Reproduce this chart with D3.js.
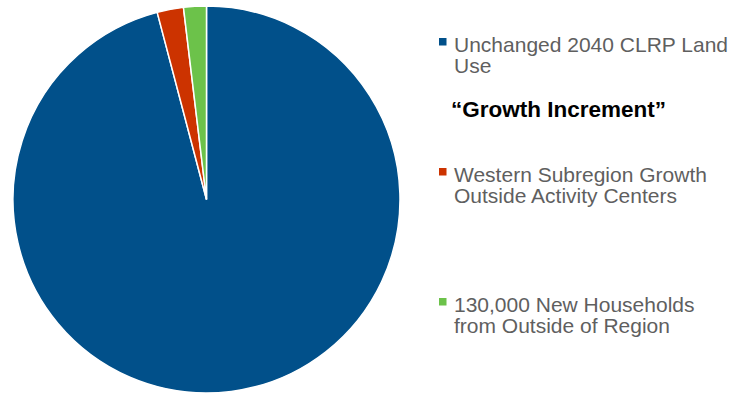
<!DOCTYPE html>
<html>
<head>
<meta charset="utf-8">
<script src="https://cdn.jsdelivr.net/npm/d3@7"></script>
<style>
  body { margin: 0; background: #fff; }
</style>
</head>
<body>
<div id="chart"></div>
<script>
// slice shares in percent, clockwise from 12 o'clock
const categories = ["Unchanged 2040 CLRP Land Use", "Western Subregion Growth Outside Activity Centers", "130,000 New Households from Outside of Region"];
const values = [95.9, 2.2, 1.9];
const colors = ["#01508a", "#cc3300", "#6cc24a"];
const legendLines = [
    ["Unchanged 2040 CLRP Land", "Use"],
    ["Western Subregion Growth", "Outside Activity Centers"],
    ["130,000 New Households", "from Outside of Region"]
];
const legendTitle = "\u201cGrowth Increment\u201d";

const width = 734, height = 394;
const cx = 206.5, cy = 199.5, radius = 193.5;

var svg = d3.select("#chart")
    .append("svg")
    .attr("width", width)
    .attr("height", height);

var data = categories.map((c, i) => ({ name: c, value: values[i], color: colors[i], lines: legendLines[i] }));

var pie = d3.pie().sort(null).value(d => d.value);
var arc = d3.arc().innerRadius(0).outerRadius(radius);

svg.append("g")
    .attr("transform", `translate(${cx},${cy})`)
    .selectAll("path")
    .data(pie(data))
    .enter().append("path")
    .attr("d", arc)
    .attr("fill", d => d.data.color)
    .attr("stroke", "#fff")
    .attr("stroke-width", 1.5);

// legend
const font = "'Liberation Sans', Arial, sans-serif";
const rowY = [51.5, 181.5, 311.5]; // baseline of first line per entry
const lineGap = 21.5;

var legend = svg.append("g");

var rows = legend.selectAll("g.row")
    .data(data)
    .enter().append("g")
    .attr("class", "row")
    .attr("transform", (d, i) => `translate(0,${rowY[i]})`);

rows.append("rect")
    .attr("x", 439)
    .attr("y", -13.5)
    .attr("width", 7.5)
    .attr("height", 7.5)
    .attr("fill", d => d.color);

rows.append("text")
    .style("font-family", font)
    .style("font-size", "21px")
    .style("fill", "#5f5f5f")
    .selectAll("tspan")
    .data(d => d.lines)
    .enter().append("tspan")
    .attr("x", 454)
    .attr("y", (d, i) => i * lineGap)
    .text(d => d);

legend.append("text")
    .attr("x", 451)
    .attr("y", 117)
    .style("font-family", font)
    .style("font-size", "22.5px")
    .style("font-weight", "bold")
    .style("fill", "#000")
    .text(legendTitle);
</script>
</body>
</html>
